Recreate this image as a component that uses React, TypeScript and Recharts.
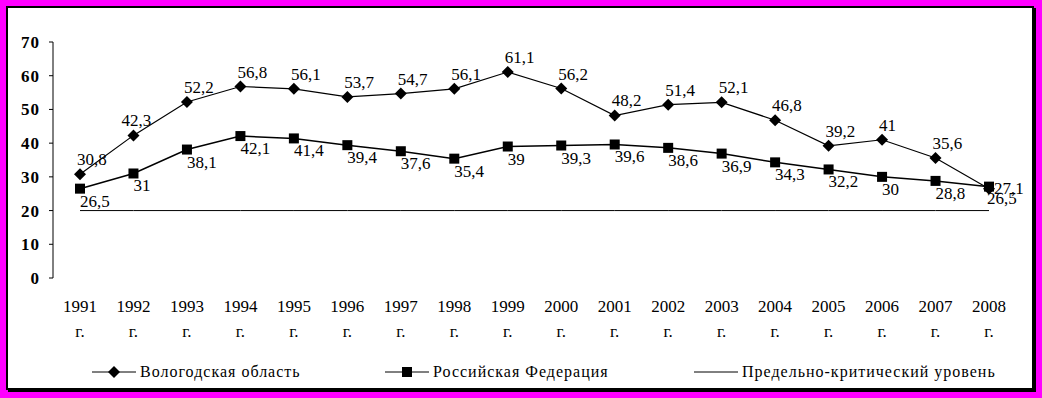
import { FC } from 'react';
import { LineChart, Line, XAxis, YAxis } from 'recharts';

// Years on the category axis
const YEARS = ['1991', '1992', '1993', '1994', '1995', '1996', '1997', '1998', '1999',
  '2000', '2001', '2002', '2003', '2004', '2005', '2006', '2007', '2008'];

// Вологодская область
const VOLOGDA = [30.8, 42.3, 52.2, 56.8, 56.1, 53.7, 54.7, 56.1, 61.1,
  56.2, 48.2, 51.4, 52.1, 46.8, 39.2, 41, 35.6, 26.5];

// Российская Федерация
const RUSSIA = [26.5, 31, 38.1, 42.1, 41.4, 39.4, 37.6, 35.4, 39,
  39.3, 39.6, 38.6, 36.9, 34.3, 32.2, 30, 28.8, 27.1];

// Предельно-критический уровень
const CRITICAL = [20, 20, 20, 20, 20, 20, 20, 20, 20,
  20, 20, 20, 20, 20, 20, 20, 20, 20];

const Y_TICKS = [0, 10, 20, 30, 40, 50, 60, 70];
const BOUNDARY_TICKS = [0, 1, 2, 3, 4, 5, 6, 7, 8, 9, 10, 11, 12, 13, 14, 15, 16, 17, 18];

const SERIF = '"Liberation Serif", "Times New Roman", serif';

const chartData = YEARS.map((year, i) => ({
  year,
  vologda: VOLOGDA[i],
  russia: RUSSIA[i],
  critical: CRITICAL[i]
}));

const fmt = (v: number) => String(v).replace('.', ',');

const Diamond = (props: any) => {
  const { cx, cy, index } = props;
  if (cx == null || cy == null) return null;
  const r = 6;
  return (
    <polygon
      key={`d-${index}`}
      points={`${cx},${cy - r} ${cx + r},${cy} ${cx},${cy + r} ${cx - r},${cy}`}
      fill="#000"
    />
  );
};

const Square = (props: any) => {
  const { cx, cy, index } = props;
  if (cx == null || cy == null) return null;
  const s = 5;
  return <rect key={`s-${index}`} x={cx - s} y={cy - s} width={s * 2} height={s * 2} fill="#000" />;
};

// labels above the diamonds (the 2008 one sits below, as in the original)
const vologdaLabel = (props: any) => {
  const { x, y, value, index } = props;
  const last = index === YEARS.length - 1;
  const dx = index === 1 ? -12 : -3;
  return (
    <text
      key={`vl-${index}`}
      x={x + (last ? -2 : dx)}
      y={y + (last ? 15 : -9)}
      textAnchor="start"
      fontFamily={SERIF}
      fontSize={17}
      fill="#000"
    >
      {fmt(value)}
    </text>
  );
};

// labels below-right of the squares
const russiaLabel = (props: any) => {
  const { x, y, value, index } = props;
  const last = index === YEARS.length - 1;
  return (
    <text
      key={`rl-${index}`}
      x={x + (last ? 5 : 0)}
      y={y + (last ? 7 : 18)}
      textAnchor="start"
      fontFamily={SERIF}
      fontSize={17}
      fill="#000"
    >
      {fmt(value)}
    </text>
  );
};

const YearTick = (props: any) => {
  const { x, y, payload } = props;
  return (
    <g>
      <text x={x} y={y + 26} textAnchor="middle" fontFamily={SERIF} fontSize={17} fill="#000">
        {payload.value}
      </text>
      <text x={x} y={y + 51} textAnchor="middle" fontFamily={SERIF} fontSize={17} fill="#000">
        г.
      </text>
    </g>
  );
};

const LegendMarker: FC<{ kind: 'diamond' | 'square' | 'none' }> = ({ kind }) => (
  <svg width={44} height={14} style={{ display: 'block' }}>
    <line x1={0} y1={7} x2={44} y2={7} stroke="#000" strokeWidth={1} />
    {kind === 'diamond' && <polygon points="22,1 28,7 22,13 16,7" fill="#000" />}
    {kind === 'square' && <rect x={17} y={2} width={10} height={10} fill="#000" />}
  </svg>
);

const LEGEND_ITEMS: { name: string; kind: 'diamond' | 'square' | 'none'; left: number }[] = [
  { name: 'Вологодская область', kind: 'diamond', left: 92 },
  { name: 'Российская Федерация', kind: 'square', left: 385 },
  { name: 'Предельно-критический уровень', kind: 'none', left: 694 }
];

const App: FC = () => {
  return (
    <div
      style={{
        position: 'absolute',
        left: 0,
        top: 0,
        width: 1042,
        height: 398,
        background: '#ff00ff'
      }}
    >
      <div
        style={{
          position: 'absolute',
          left: 6,
          top: 6,
          width: 1024,
          height: 380,
          background: '#fff',
          border: '2px solid #000',
          boxShadow: '2px 2px 0 #000'
        }}
      />
      <div style={{ position: 'absolute', left: 0, top: 0 }}>
        <LineChart
          width={1042}
          height={398}
          data={chartData}
          margin={{ top: 42, right: 26, bottom: 60, left: 8 }}
        >
          <XAxis
            xAxisId="grid"
            type="number"
            domain={[0, 18]}
            ticks={BOUNDARY_TICKS}
            tick={false}
            tickSize={5}
            height={0}
            axisLine={{ stroke: '#000', strokeWidth: 2 }}
            tickLine={{ stroke: '#000', strokeWidth: 1 }}
          />
          <XAxis
            dataKey="year"
            height={60}
            padding={{ left: 27, right: 27 }}
            axisLine={false}
            tickLine={false}
            interval={0}
            tick={<YearTick />}
          />
          <YAxis
            width={45}
            domain={[0, 70]}
            ticks={Y_TICKS}
            tickSize={4}
            tickMargin={9}
            axisLine={{ stroke: '#000', strokeWidth: 1 }}
            tickLine={{ stroke: '#000', strokeWidth: 1 }}
            tick={{ fontFamily: SERIF, fontSize: 17, fontWeight: 'bold', letterSpacing: 1, fill: '#000' }}
          />
          <Line
            dataKey="critical"
            stroke="#000"
            strokeWidth={1}
            dot={false}
            activeDot={false}
            isAnimationActive={false}
          />
          <Line
            dataKey="russia"
            stroke="#000"
            strokeWidth={1.5}
            dot={<Square />}
            activeDot={false}
            label={russiaLabel}
            isAnimationActive={false}
          />
          <Line
            dataKey="vologda"
            stroke="#000"
            strokeWidth={1.2}
            dot={<Diamond />}
            activeDot={false}
            label={vologdaLabel}
            isAnimationActive={false}
          />
        </LineChart>
      </div>
      {LEGEND_ITEMS.map((item) => (
        <div
          key={item.name}
          style={{
            position: 'absolute',
            left: item.left,
            top: 363,
            display: 'flex',
            alignItems: 'center',
            gap: 4,
            fontFamily: SERIF,
            fontSize: 16,
            letterSpacing: 1,
            color: '#000',
            whiteSpace: 'nowrap'
          }}
        >
          <LegendMarker kind={item.kind} />
          <span>{item.name}</span>
        </div>
      ))}
    </div>
  );
};

export default App;
